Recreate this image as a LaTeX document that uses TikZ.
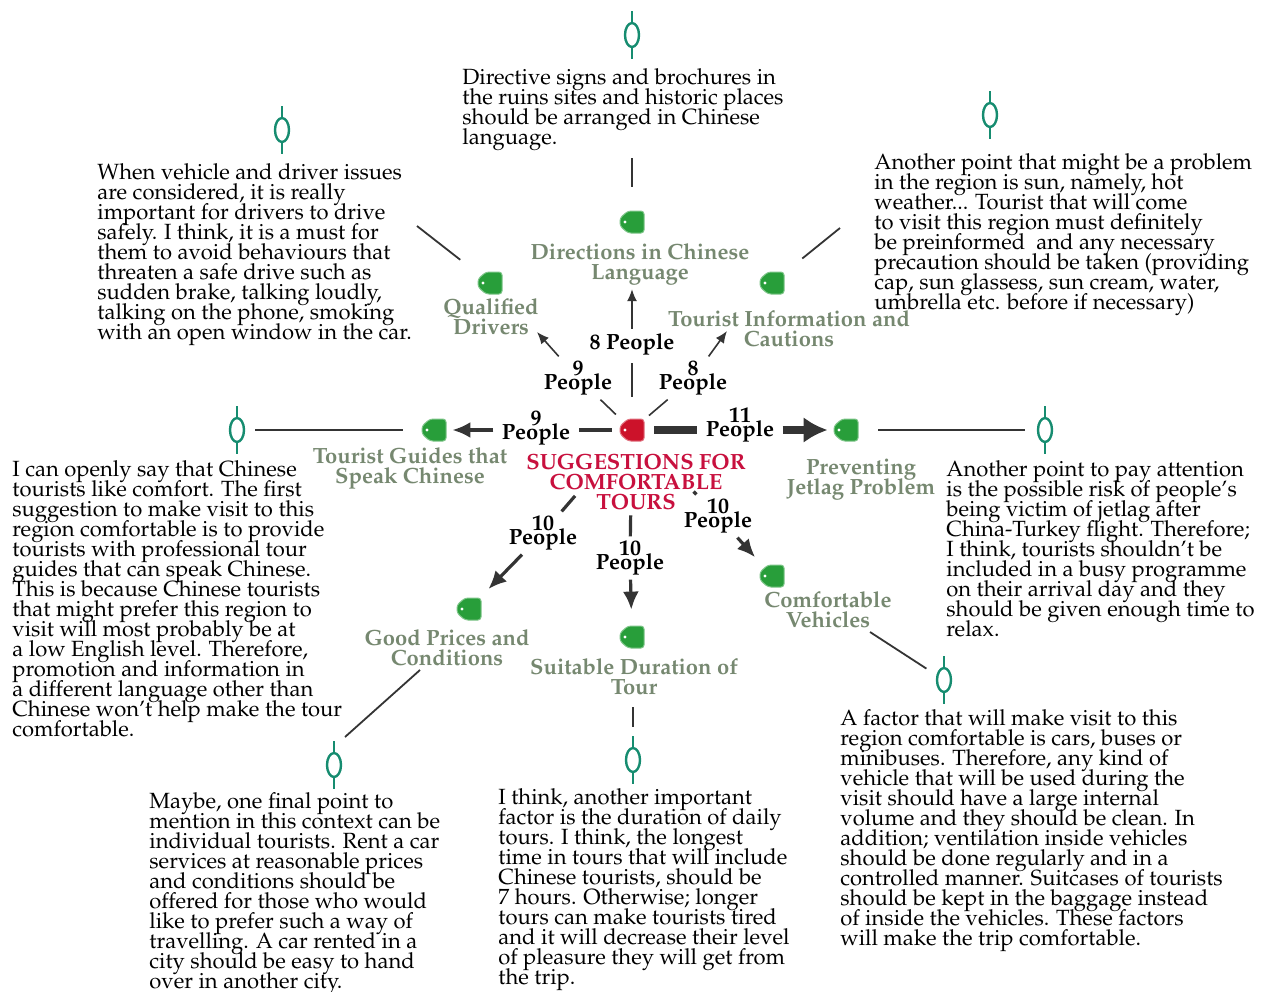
\documentclass[tikz,border=0pt]{standalone}
\usepackage[T1]{fontenc}
\usepackage{mathpazo}
\usepackage{xcolor}
\usepackage{tikz}
\usetikzlibrary{arrows.meta, calc}
\definecolor{tagGreen}{RGB}{40,158,58}
\definecolor{tagRed}{RGB}{204,18,42}
\definecolor{titleRed}{RGB}{200,16,62}
\definecolor{topicGreen}{RGB}{118,136,112}
\definecolor{pinTeal}{RGB}{22,140,112}
\definecolor{linkGrey}{RGB}{52,52,52}
\setlength{\lineskiplimit}{-100pt}

\tikzset{
  note/.style={font=\fontsize{11}{10}\selectfont, align=left, anchor=north west, inner sep=0pt},
  topic/.style={font=\bfseries\fontsize{11}{10}\selectfont, text=topicGreen, align=center, inner sep=2pt},
  title/.style={font=\bfseries\fontsize{11}{10}\selectfont, text=titleRed, align=center},
  people/.style={font=\bfseries\fontsize{11}{7}\selectfont, align=center, inner sep=2pt},
  tagbox/.style={minimum width=12pt, minimum height=11pt, inner sep=0pt},
  pinstroke/.style={draw=pinTeal, line width=1.2pt},
  link/.style={draw=linkGrey, line width=0.9pt},
  weak/.style={draw=linkGrey, line width=0.8pt},
  medium/.style={draw=linkGrey, line width=1.6pt},
  strong/.style={draw=linkGrey, line width=4pt},
}

% a luggage tag: name, position, colour
\newcommand{\Tag}[3]{%
  \node[tagbox] (#1) at (#2) {};
  \filldraw[fill=#3, draw=#3!60!white, line width=0.5pt, rounded corners=1.5pt]
    ($(#1)+(-4,-11)$) -- ($(#1)+(12,-11)$) -- ($(#1)+(12,11)$) -- ($(#1)+(-4,11)$)
    -- ($(#1)+(-12,4)$) -- ($(#1)+(-12,-4)$) -- cycle;
  \fill[white] ($(#1)+(-7,0)$) circle (1.6);
}

% a pin: name, position
\newcommand{\Pin}[2]{%
  \coordinate (#1) at (#2);
  \draw[pinstroke] ($(#1)+(0,-24)$) -- ($(#1)+(0,-12)$);
  \draw[pinstroke] (#1) ellipse (7 and 12);
  \draw[pinstroke] ($(#1)+(0,12)$) -- ($(#1)+(0,24)$);
}

\begin{document}
\begin{tikzpicture}[x=0.5pt, y=-0.5pt]

	\useasboundingbox[fill=white] (0,0) rectangle (1266,992);

	% centre
	\Tag{ctr}{632,430}{tagRed}
	\node[title] (title) at (636,482) {SUGGESTIONS FOR\\COMFORTABLE\\TOURS};

	% topics
	\Tag{dirtag}{632,222}{tagGreen}
	\Tag{qualtag}{490,283}{tagGreen}
	\Tag{infotag}{772,283}{tagGreen}
	\Tag{guidetag}{434,430}{tagGreen}
	\Tag{jettag}{846,430}{tagGreen}
	\Tag{pricetag}{469,609}{tagGreen}
	\Tag{durtag}{632,637}{tagGreen}
	\Tag{comftag}{772,576}{tagGreen}

	\node[topic] (dirlab) at (640,264) {Directions in Chinese\\Language};
	\node[topic] (quallab) at (491,317) {Qualified\\Drivers};
	\node[topic] (infolab) at (789,329) {Tourist Information and\\Cautions};
	\node[topic] (guidelab) at (410,468) {Tourist Guides that\\Speak Chinese};
	\node[topic] (jetlab) at (861,480) {Preventing\\Jetlag Problem};
	\node[topic] (pricelab) at (447,648) {Good Prices and\\Conditions};
	\node[topic] (durlab) at (634,677) {Suitable Duration of\\Tour};
	\node[topic] (comflab) at (828,610) {Comfortable\\Vehicles};

	% counts
	\node[people] (nU) at (632,344) {8 People};
	\node[people] (nUL) at (578,378) {9\\People};
	\node[people] (nUR) at (693,378) {8\\People};
	\node[people] (nL) at (536,428) {9\\People};
	\node[people] (nR) at (740,425) {11\\People};
	\node[people] (nDL) at (543,533) {10\\People};
	\node[people] (nD) at (630,558) {10\\People};
	\node[people] (nDR) at (718,516) {10\\People};

	\coordinate (qualtip) at (537,332);
	\coordinate (infotip) at (727,331);

	\draw[weak, shorten <=11pt, shorten >=2pt] (ctr) -- (nU);
	\draw[weak, -{Latex[length=6pt, width=5pt]}] (nU) -- (nU |- dirlab.south);
	\draw[weak, shorten <=3pt] (ctr) -- (nUL);
	\draw[weak, -{Latex[length=6pt, width=5pt]}] (nUL) -- (qualtip);
	\draw[weak, shorten <=3pt] (ctr) -- (nUR);
	\draw[weak, -{Latex[length=6pt, width=5pt]}] (nUR) -- (infotip);
	\draw[medium, shorten <=4pt, shorten >=2pt] (ctr) -- (nL.east |- ctr);
	\draw[medium, shorten <=2pt, shorten >=3pt, -{Latex[length=9pt, width=8pt]}] (nL.west |- guidetag) -- (guidetag);
	\draw[strong, shorten <=5pt, shorten >=2pt] (ctr) -- (nR.west |- ctr);
	\draw[strong, shorten <=2pt, shorten >=3pt, -{Latex[length=12pt, width=13pt]}] (nR.east |- jettag) -- (jettag);
	\draw[medium, shorten <=36pt] (ctr) -- (nDL);
	\draw[medium, shorten >=6pt, -{Latex[length=9pt, width=8pt]}] (nDL) -- (pricetag);
	\draw[medium, shorten <=37pt] (ctr) -- (nD);
	\draw[medium, shorten >=8pt, -{Latex[length=9pt, width=8pt]}] (nD) -- (durtag);
	\draw[medium, shorten <=35.5pt] (ctr) -- (nDR);
	\draw[medium, shorten >=5pt, -{Latex[length=9pt, width=8pt]}] (nDR) -- (comftag);

	% pins and notes
	\Pin{dirpin}{632,35}
	\Pin{qualpin}{282,130}
	\Pin{infopin}{990,115}
	\Pin{guidepin}{237,430}
	\Pin{jetpin}{1045,430}
	\Pin{pricepin}{334,765}
	\Pin{durpin}{633,760}
	\Pin{comfpin}{944,680}

	\node[note] (dirnote) at (462,68) {Directive signs and brochures in\\the ruins sites and historic places\\should be arranged in Chinese\\language.};
	\node[note] (qualnote) at (97,163) {When vehicle and driver issues\\are considered, it is really\\important for drivers to drive\\safely. I think, it is a must for\\them to avoid behaviours that\\threaten a safe drive such as\\sudden brake, talking loudly,\\talking on the phone, smoking\\with an open window in the car.};
	\node[note] (infonote) at (874,153) {Another point that might be a problem\\in the region is sun, namely, hot\\weather... Tourist that will come\\to visit this region must definitely\\be preinformed \ and any necessary\\precaution should be taken (providing\\cap, sun glassess, sun cream, water,\\umbrella etc. before if necessary)};
	\node[note] (guidenote) at (12,460) {I can openly say that Chinese\\tourists like comfort. The first\\suggestion to make visit to this\\region comfortable is to provide\\tourists with professional tour\\guides that can speak Chinese.\\This is because Chinese tourists\\that might prefer this region to\\visit will most probably be at\\a low English level. Therefore,\\promotion and information in\\a different language other than\\Chinese won't help make the tour\\comfortable.};
	\node[note] (jetnote) at (946,460) {Another point to pay attention\\is the possible risk of people's\\being victim of jetlag after\\China-Turkey flight. Therefore;\\I think, tourists shouldn't be\\included in a busy programme\\on their arrival day and they\\should be given enough time to\\relax.};
	\node[note] (pricenote) at (149,792) {Maybe, one final point to\\mention in this context can be\\individual tourists. Rent a car\\services at reasonable prices\\and conditions should be\\offered for those who would\\like to prefer such a way of\\travelling. A car rented in a\\city should be easy to hand\\over in another city.};
	\node[note] (durnote) at (498,788) {I think, another important\\factor is the duration of daily\\tours. I think, the longest\\time in tours that will include\\Chinese tourists, should be\\7 hours. Otherwise; longer\\tours can make tourists tired\\and it will decrease their level\\of pleasure they will get from\\the trip.};
	\node[note] (comfnote) at (840,709) {A factor that will make visit to this\\region comfortable is cars, buses or\\minibuses. Therefore, any kind of\\vehicle that will be used during the\\visit should have a large internal\\volume and they should be clean. In\\addition; ventilation inside vehicles\\should be done regularly and in a\\controlled manner. Suitcases of tourists\\should be kept in the baggage instead\\of inside the vehicles. These factors\\will make the trip comfortable.};

	% links from tags to notes
	\coordinate (qualend) at (417,226);
	\coordinate (infoend) at (840,228);
	\coordinate (pricea) at (420,670);
	\coordinate (priceb) at (345,737);
	\coordinate (comfend) at (870,632);

	\draw[link, shorten <=12pt, shorten >=3.5pt] (dirtag) -- (dirtag |- dirnote.south);
	\draw[link, shorten <=11pt] (qualtag) -- (qualend);
	\draw[link, shorten <=11.5pt] (infotag) -- (infoend);
	\draw[link, shorten <=9pt, shorten >=9.5pt] (guidepin) -- (guidetag);
	\draw[link, shorten <=10pt, shorten >=10pt] (jettag) -- (jetpin);
	\draw[link] (pricea) -- (priceb);
	\draw[link, shorten <=4pt, shorten >=16.5pt] (durlab.south -| durpin) -- (durpin);
	\draw[link, shorten >=10.5pt] (comfend) -- (comfpin);

\end{tikzpicture}
\end{document}
